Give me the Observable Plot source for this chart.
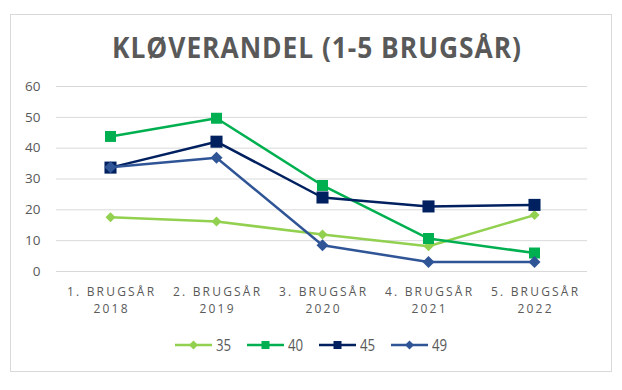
<!DOCTYPE html>
<html><head><meta charset="utf-8">
<script src="https://cdn.jsdelivr.net/npm/d3@7"></script>
<script src="https://cdn.jsdelivr.net/npm/@observablehq/plot@0.6"></script>
<style>
body{margin:0;background:#fff;font-family:"Open Sans",sans-serif}
#wrap{position:relative;width:622px;height:390px;overflow:hidden;background:#fff}
#frame{position:absolute;left:10px;top:14px;width:600px;height:356px;border:1px solid #d9d9d9;box-sizing:content-box}
#title{position:absolute;left:317px;top:33px;white-space:nowrap;font-family:"Open Sans",sans-serif;font-weight:700;font-size:28px;line-height:28px;letter-spacing:1px;color:#595959;transform-origin:50% 50%}
#chart{position:absolute;left:0;top:70px}
#legend{position:absolute;left:0;top:336px;width:622px;display:flex;justify-content:center;align-items:center;gap:16px}
.li{display:flex;align-items:center;gap:4px}
.li span{display:inline-block;font-size:17px;line-height:18px;color:#595959;transform:scaleX(0.78);transform-origin:0 50%;width:15px}
</style></head>
<body>
<div id="wrap">
  <div id="frame"></div>
  <div id="title"></div>
  <div id="chart"></div>
  <div id="legend"></div>
</div>
<script>
const titleText = "KLØVERANDEL (1-5 BRUGSÅR)";
const categories = ["1. BRUGSÅR", "2. BRUGSÅR", "3. BRUGSÅR", "4. BRUGSÅR", "5. BRUGSÅR"];
const years = ["2018", "2019", "2020", "2021", "2022"];
const seriesNames = ["35", "40", "45", "49"];
const seriesColors = ["#92D050", "#00B050", "#002060", "#2F5597"];
const seriesSymbols = ["diamond2", "square", "square", "diamond2"];
const s35 = [17.6, 16.2, 12.0, 8.2, 18.3];
const s40 = [43.8, 49.7, 27.9, 10.7, 6.0];
const s45 = [33.7, 42.1, 24.0, 21.1, 21.6];
const s49 = [33.8, 36.9, 8.5, 3.1, 3.1];
const yTicks = [0, 10, 20, 30, 40, 50, 60];

const seriesValues = [s35, s40, s45, s49];
const markerR = [4.5, 6.2, 6.8, 5.4];
const keys = categories.map((c, i) => c + "\n" + years[i]);

const marks = [Plot.ruleY(yTicks, {stroke: "#d9d9d9", strokeWidth: 1})];
seriesNames.forEach((name, si) => {
  const rows = seriesValues[si].map((v, i) => ({x: keys[i], y: v, s: name}));
  marks.push(Plot.line(rows, {x: "x", y: "y", stroke: seriesColors[si], strokeWidth: 2.5, curve: "linear"}));
  marks.push(Plot.dot(rows, {x: "x", y: "y", symbol: () => seriesSymbols[si], r: markerR[si], fill: seriesColors[si], stroke: "none"}));
});
marks.push(Plot.text(keys, {x: d => d, text: d => d, frameAnchor: "bottom", lineAnchor: "top", dy: 12, dx: 1.1, fontSize: 12, lineHeight: 1.42, fill: "#595959"}));

const chart = Plot.plot({
  width: 622, height: 255,
  marginTop: 16, marginBottom: 54, marginLeft: 56, marginRight: 35,
  style: {fontFamily: "'Open Sans', sans-serif", fontSize: "13.5px", color: "#595959", background: "transparent", overflow: "visible"},
  x: {type: "point", domain: keys, padding: 0.5, axis: null},
  y: {domain: [0, 60], ticks: yTicks, tickSize: 0, tickPadding: 16, label: null},
  symbol: {type: "identity"},
  marks
});
document.getElementById("chart").appendChild(chart);
chart.querySelectorAll("text").forEach(el => {
  if (el.textContent.includes("BRUGS")) el.style.letterSpacing = "2.2px";
});

// title
const t = document.getElementById("title");
t.textContent = titleText;
const w = t.getBoundingClientRect().width;
t.style.transform = `translateX(-50%) scaleX(${410 / w})`;

// legend
const leg = document.getElementById("legend");
seriesNames.forEach((name, si) => {
  const item = document.createElement("div");
  item.className = "li";
  const sym = seriesSymbols[si] === "square"
    ? `<rect x="14.5" y="2" width="8" height="8" fill="${seriesColors[si]}"/>`
    : `<path d="M18.5 1.5 L23 6 L18.5 10.5 L14 6 Z" fill="${seriesColors[si]}"/>`;
  item.innerHTML = `<svg width="37" height="12"><line x1="0" y1="6" x2="37" y2="6" stroke="${seriesColors[si]}" stroke-width="2.5"/>${sym}</svg><span>${name}</span>`;
  leg.appendChild(item);
});
</script>
</body></html>
